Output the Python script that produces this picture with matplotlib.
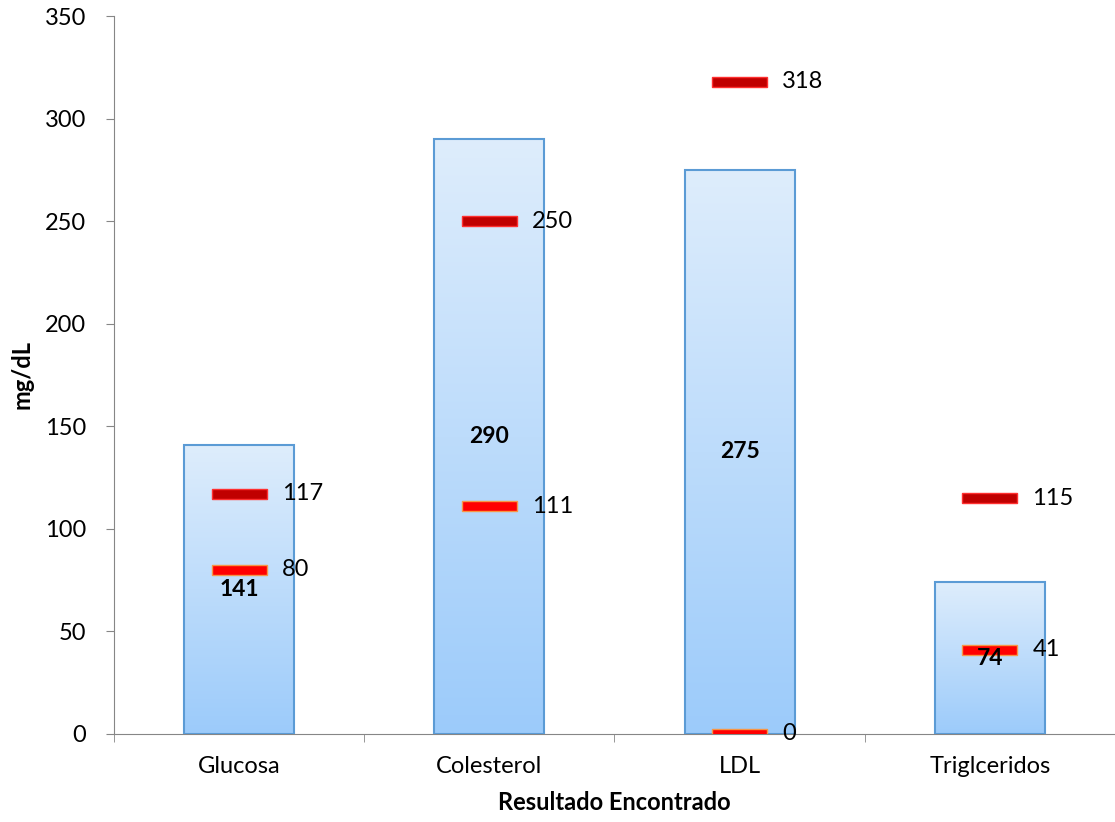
import numpy as np
import matplotlib
matplotlib.use("Agg")
import matplotlib.pyplot as plt

plt.rcParams['font.family'] = ['Lato', 'DejaVu Sans']

# data
categories = ['Glucosa', 'Colesterol', 'LDL', 'Triglceridos']
resultado = [141, 290, 275, 74]
ref_min = [80, 111, 0, 41]
ref_max = [117, 250, 318, 115]

fig = plt.figure(figsize=(11.15, 8.22), dpi=100)
ax = fig.add_axes([0.1022, 0.1071, 0.8978, 0.8734])

x = np.arange(len(categories))

# bars with a vertical gradient fill
bars = ax.bar(x, resultado, width=0.44, color='none', edgecolor='#5B9BD5',
              linewidth=1.5, zorder=3)
grad = np.linspace(0, 1, 256).reshape(-1, 1)
cmap = matplotlib.colors.LinearSegmentedColormap.from_list('g', ['#9CCBFA', '#DEEDFC'])
for b in bars:
    im = ax.imshow(grad, cmap=cmap, origin='lower', aspect='auto',
                   extent=[b.get_x(), b.get_x() + b.get_width(), 0, b.get_height()],
                   zorder=2)
    im.set_clip_path(b)

# value labels inside the bars
for xi, v in zip(x, resultado):
    ax.text(xi, v / 2, str(v), ha='center', va='center', fontsize=16.5,
            fontweight='bold', zorder=6)

# reference markers (min / max)
mark_h = 5
ax.bar(x, mark_h, bottom=np.array(ref_max) - mark_h / 2, width=0.22,
       color='#C00000', edgecolor='#FF3030', linewidth=1, zorder=5)
ax.bar(x, mark_h, bottom=np.array(ref_min) - mark_h / 2, width=0.22,
       color='#FF0000', edgecolor='#F79646', linewidth=1, zorder=5)
for xi, lo, hi in zip(x, ref_min, ref_max):
    ax.text(xi + 0.17, hi, str(hi), ha='left', va='center', fontsize=17, zorder=6)
    ax.text(xi + 0.17, lo, str(lo), ha='left', va='center', fontsize=17, zorder=6)

ax.set_xlim(-0.5, 3.5)
ax.set_ylim(0, 350)
ax.set_yticks(range(0, 351, 50))
ax.set_xticks(x)
ax.set_xticklabels(categories, fontsize=17)
ax.set_xticks(np.arange(-0.5, 3.6, 1), minor=True)
ax.tick_params(axis='x', which='major', length=0, pad=16)
ax.tick_params(axis='x', which='minor', length=6, color='#868686')
ax.tick_params(axis='y', labelsize=17, length=6, color='#868686', pad=14)

for s in ['top', 'right']:
    ax.spines[s].set_visible(False)
for s in ['left', 'bottom']:
    ax.spines[s].set_color('#868686')

ax.set_ylabel('mg/dL', fontsize=17, fontweight='bold', labelpad=8)
ax.set_xlabel('Resultado Encontrado', fontsize=17, fontweight='bold', labelpad=10)

fig.savefig('out.png', dpi=100)
